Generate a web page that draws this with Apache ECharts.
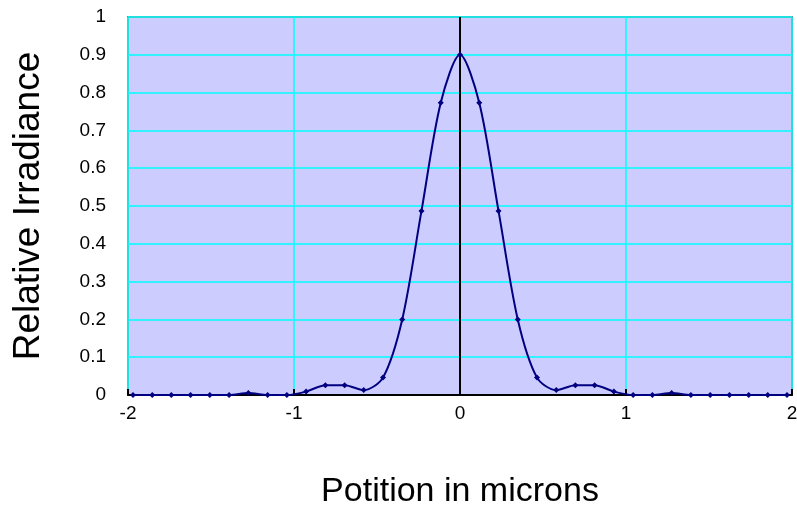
<!DOCTYPE html>
<html>
<head>
<meta charset="utf-8">
<script src="https://cdn.jsdelivr.net/npm/echarts@6/dist/echarts.min.js"></script>
<style>
  html, body { margin: 0; padding: 0; background: #ffffff; }
  #chart { width: 797px; height: 506px; }
</style>
</head>
<body>
<div id="chart"></div>
<script>
// Sample positions (microns) and relative irradiance at each position
const positions = [
  -1.970, -1.854, -1.739, -1.623, -1.507, -1.391, -1.275, -1.159, -1.043,
  -0.927, -0.811, -0.695, -0.580, -0.464, -0.348, -0.232, -0.116,
  0.000,
  0.116, 0.232, 0.348, 0.464, 0.580, 0.695, 0.811, 0.927,
  1.043, 1.159, 1.275, 1.391, 1.507, 1.623, 1.739, 1.854, 1.970
];
const irradiance = [
  0, 0, 0, 0, 0, 0, 0.005, 0, 0,
  0.009, 0.026, 0.026, 0.013, 0.046, 0.200, 0.487, 0.773,
  0.900,
  0.773, 0.487, 0.200, 0.046, 0.013, 0.026, 0.026, 0.009,
  0, 0, 0.005, 0, 0, 0, 0, 0, 0
];
const xTicks = [-2, -1, 0, 1, 2];
const yTicks = [0, 0.1, 0.2, 0.3, 0.4, 0.5, 0.6, 0.7, 0.8, 0.9, 1];

const FONT = "'Liberation Sans', Arial, sans-serif";

const points = positions.map((x, i) => [x, irradiance[i]]);

const chart = echarts.init(document.getElementById('chart'), null, { renderer: 'canvas' });
chart.setOption({
  animation: false,
  backgroundColor: '#ffffff',
  grid: {
    left: 128, right: 5, top: 17, bottom: 111,
    outerBoundsMode: 'none',
    containLabel: false,
    show: true,
    backgroundColor: '#CCCCFF',
    borderColor: '#808080',
    borderWidth: 2
  },
  xAxis: {
    type: 'value',
    min: xTicks[0], max: xTicks[xTicks.length - 1], interval: 1,
    name: 'Potition in microns',
    nameLocation: 'middle',
    nameGap: 80,
    nameTextStyle: { fontFamily: FONT, fontSize: 34, color: '#000' },
    axisLine: { show: true, onZero: false, lineStyle: { color: '#000', width: 2 } },
    axisTick: { show: true, inside: true, length: 6, lineStyle: { color: '#000', width: 2 } },
    axisLabel: { fontFamily: FONT, fontSize: 19, color: '#000', margin: 9 },
    splitLine: { show: true, lineStyle: { color: '#00FFFF', width: 1.5 } }
  },
  yAxis: {
    type: 'value',
    min: yTicks[0], max: yTicks[yTicks.length - 1], interval: 0.1,
    name: 'Relative Irradiance',
    nameLocation: 'middle',
    nameGap: 81,
    nameTextStyle: { fontFamily: FONT, fontSize: 37, color: '#000' },
    axisLine: { show: false },
    axisTick: { show: false },
    axisLabel: { fontFamily: FONT, fontSize: 19, color: '#000', margin: 22,
      formatter: v => String(Math.round(v * 10) / 10) },
    splitLine: { show: true, lineStyle: { color: '#00FFFF', width: 1.5 } }
  },
  series: [{
    type: 'line',
    data: points,
    smooth: 0.3,
    symbol: 'diamond',
    symbolSize: 6,
    itemStyle: { color: '#000080' },
    lineStyle: { color: '#000080', width: 2 },
    z: 5,
    markLine: {
      silent: true,
      symbol: 'none',
      label: { show: false },
      lineStyle: { color: '#000', width: 2, type: 'solid' },
      data: [{ xAxis: 0 }],
      z: 3
    }
  }]
});
</script>
</body>
</html>
